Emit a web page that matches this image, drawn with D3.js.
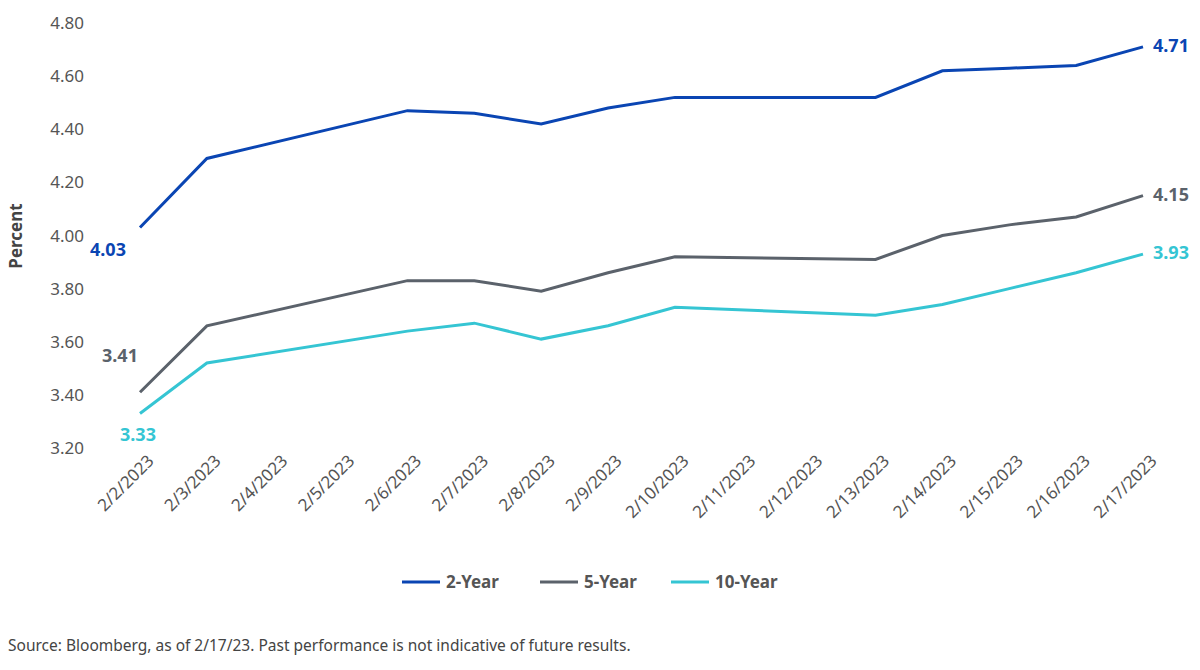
<!DOCTYPE html>
<html><head><meta charset="utf-8">
<script src="https://cdn.jsdelivr.net/npm/d3@7"></script>
<style>body{margin:0;background:#fff;font-family:"Source Sans Pro","Noto Sans",sans-serif;}</style>
</head><body><svg id="c" width="1200" height="670"></svg>
<script>
// all calendar days on the axis, values only on trading days
var dates = ['2/2/2023','2/3/2023','2/4/2023','2/5/2023','2/6/2023','2/7/2023','2/8/2023','2/9/2023','2/10/2023','2/11/2023','2/12/2023','2/13/2023','2/14/2023','2/15/2023','2/16/2023','2/17/2023'];
var tradeDates = ['2/2/2023','2/3/2023','2/6/2023','2/7/2023','2/8/2023','2/9/2023','2/10/2023','2/13/2023','2/14/2023','2/15/2023','2/16/2023','2/17/2023'];
var twoYear = [4.03,4.29,4.47,4.46,4.42,4.48,4.52,4.52,4.62,4.63,4.64,4.71];
var fiveYear = [3.41,3.66,3.83,3.83,3.79,3.86,3.92,3.91,4.00,4.04,4.07,4.15];
var tenYear = [3.33,3.52,3.64,3.67,3.61,3.66,3.73,3.70,3.74,3.80,3.86,3.93];
var yTicks = [3.20,3.40,3.60,3.80,4.00,4.20,4.40,4.60,4.80];

var series = [
  {name:'2-Year', values:twoYear, color:'#0a45b3', first:{dx:-32,dy:28}, last:{dx:28,dy:5}},
  {name:'5-Year', values:fiveYear, color:'#5b626b', first:{dx:-20,dy:-30}, last:{dx:28,dy:5}},
  {name:'10-Year', values:tenYear, color:'#35c5d3', first:{dx:-2,dy:28}, last:{dx:28,dy:5}}
];

var svg = d3.select('#c');
var x = d3.scalePoint().domain(dates).range([140,1143]);
var y = d3.scaleLinear().domain([3.2,4.8]).range([448,23]);

var yAxis = svg.append('g').attr('transform','translate(0,0)');
yTicks.forEach(function(t){
  yAxis.append('text').attr('x',84).attr('y',y(t)+6).attr('text-anchor','end')
    .attr('font-size',17).attr('fill','#555').text(t.toFixed(2));
});
svg.append('text').attr('transform','translate(22,236) rotate(-90)')
  .attr('text-anchor','middle').attr('font-size',17).attr('font-weight','bold').attr('fill','#444').text('Percent');

var xAxis = svg.append('g').attr('transform','translate(0,462)')
  .call(d3.axisBottom(x).tickSize(0).tickPadding(0));
xAxis.select('.domain').remove();
xAxis.selectAll('text').attr('font-size',17).attr('fill','#555')
  .attr('font-family','"Source Sans Pro","Noto Sans",sans-serif')
  .attr('text-anchor','end').attr('dy','0.6em').attr('dx','0.6em').attr('transform','rotate(-45)');

var line = d3.line().x(function(d,i){return x(tradeDates[i]);}).y(function(d){return y(d);});

series.forEach(function(s){
  svg.append('path').attr('d',line(s.values)).attr('fill','none')
    .attr('stroke',s.color).attr('stroke-width',3);
  var n = s.values.length-1;
  svg.append('text').attr('x',x(tradeDates[0])+s.first.dx).attr('y',y(s.values[0])+s.first.dy)
    .attr('text-anchor','middle').attr('font-size',18).attr('font-weight','bold').attr('fill',s.color).text(s.values[0].toFixed(2));
  svg.append('text').attr('x',x(tradeDates[n])+s.last.dx).attr('y',y(s.values[n])+s.last.dy)
    .attr('text-anchor','middle').attr('font-size',18).attr('font-weight','bold').attr('fill',s.color).text(s.values[n].toFixed(2));
});

var lg = svg.append('g').attr('transform','translate(402,582)');
var offs = [0,138,269];
series.forEach(function(s,i){
  lg.append('line').attr('x1',offs[i]).attr('x2',offs[i]+38).attr('stroke',s.color).attr('stroke-width',3);
  lg.append('text').attr('x',offs[i]+44).attr('y',6).attr('font-size',17).attr('font-weight','bold').attr('fill','#555').text(s.name);
});

svg.append('text').attr('x',8).attr('y',651).attr('font-size',15.5).attr('fill','#444')
  .text('Source: Bloomberg, as of 2/17/23. Past performance is not indicative of future results.');
</script></body></html>
